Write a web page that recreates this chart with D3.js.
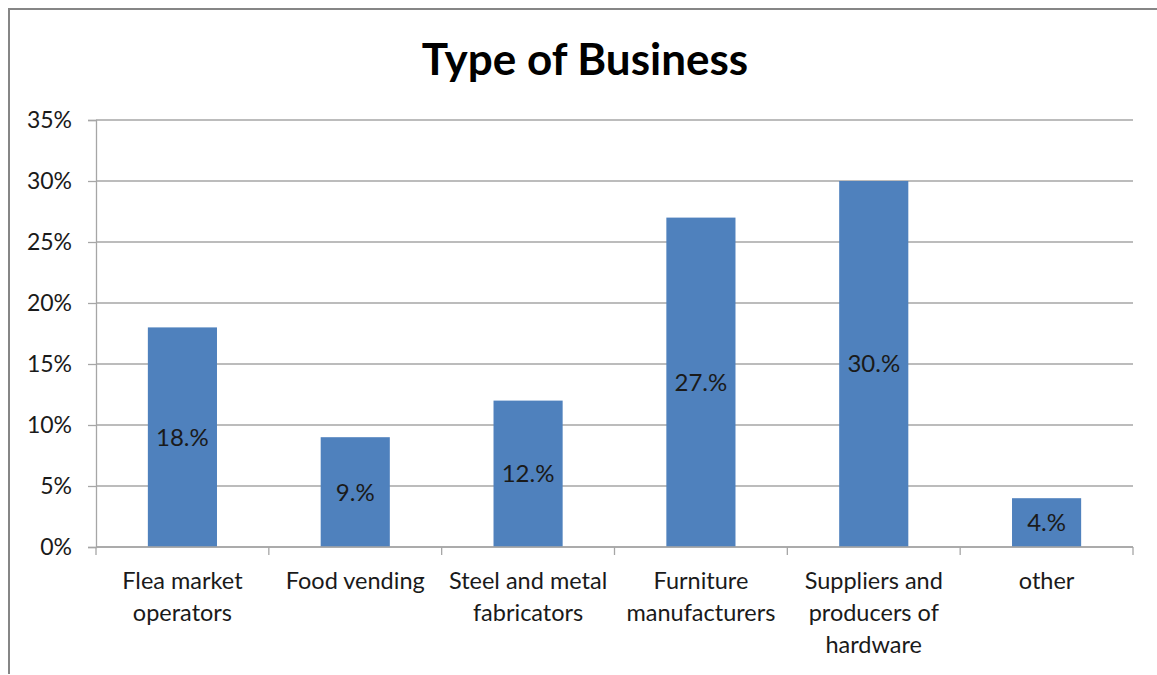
<!DOCTYPE html>
<html>
<head>
<meta charset="utf-8">
<script src="https://cdn.jsdelivr.net/npm/d3@7/dist/d3.min.js"></script>
<style>
  html, body { margin: 0; padding: 0; background: #fff; }
  svg { display: block; font-family: Lato, "Open Sans", sans-serif; }
</style>
</head>
<body>
<svg id="chart" width="1157" height="675"></svg>
<script>
// Share of respondents by type of business
const categories = [
  ["Flea market", "operators"],
  ["Food vending"],
  ["Steel and metal", "fabricators"],
  ["Furniture", "manufacturers"],
  ["Suppliers and", "producers of", "hardware"],
  ["other"]
];
const values = [18, 9, 12, 27, 30, 4];
const yTicks = [0, 5, 10, 15, 20, 25, 30, 35];
const title = "Type of Business";

const svg = d3.select("#chart");
const W = 1157, H = 675;
const margin = { left: 96, right: 24, top: 120, bottom: 128 };
const plotW = W - margin.left - margin.right;
const plotH = H - margin.top - margin.bottom;

// outer frame (top and left edges)
svg.append("path")
  .attr("d", `M9,${H - 1} L9,9 L${W},9`)
  .attr("fill", "none")
  .attr("stroke", "#868686")
  .attr("stroke-width", 2);

svg.append("text")
  .attr("x", 585)
  .attr("y", 75)
  .attr("text-anchor", "middle")
  .attr("font-size", 44)
  .attr("font-weight", "bold")
  .attr("fill", "#000")
  .text(title);

const idx = d3.range(categories.length);
const x = d3.scaleBand().domain(idx).range([0, plotW]).paddingInner(0.6).paddingOuter(0.3);
const xBand = d3.scaleBand().domain(idx).range([0, plotW]);
const y = d3.scaleLinear().domain([0, 35]).range([plotH, 0]);

const g = svg.append("g").attr("transform", `translate(${margin.left},${margin.top})`);

// horizontal gridlines
g.selectAll("line.grid")
  .data(yTicks)
  .join("line")
  .attr("class", "grid")
  .attr("x1", 0).attr("x2", plotW)
  .attr("y1", d => y(d)).attr("y2", d => y(d))
  .attr("stroke", "#a6a6a6")
  .attr("stroke-width", 1.3);

// y axis
const yAxis = g.append("g")
  .call(d3.axisLeft(y).tickValues(yTicks).tickFormat(d => d + "%").tickSize(8).tickPadding(16));
yAxis.select(".domain").attr("stroke", "#a6a6a6").attr("stroke-width", 1.3);
yAxis.selectAll(".tick line").attr("stroke", "#a6a6a6").attr("stroke-width", 1.3);
yAxis.selectAll(".tick text")
  .attr("font-size", 23)
  .attr("font-family", "Lato, 'Open Sans', sans-serif")
  .attr("fill", "#1a1a1a");

// bars
g.selectAll("rect.bar")
  .data(values)
  .join("rect")
  .attr("class", "bar")
  .attr("x", (d, i) => x(i))
  .attr("width", x.bandwidth())
  .attr("y", d => y(d))
  .attr("height", d => plotH - y(d))
  .attr("fill", "#4f81bd");

// value labels centred in each bar
g.selectAll("text.val")
  .data(values)
  .join("text")
  .attr("class", "val")
  .attr("x", (d, i) => x(i) + x.bandwidth() / 2)
  .attr("y", d => (y(d) + plotH) / 2)
  .attr("dy", "0.35em")
  .attr("text-anchor", "middle")
  .attr("font-size", 24)
  .attr("fill", "#1a1a1a")
  .text(d => d + ".%");

// x axis with boundary ticks between categories
const xAxisG = g.append("g").attr("transform", `translate(0,${plotH})`);
xAxisG.append("line")
  .attr("x1", 0).attr("x2", plotW)
  .attr("stroke", "#a6a6a6").attr("stroke-width", 1.3);
xAxisG.selectAll("line.tick")
  .data(d3.range(categories.length + 1))
  .join("line")
  .attr("class", "tick")
  .attr("x1", i => i * xBand.step()).attr("x2", i => i * xBand.step())
  .attr("y1", 0).attr("y2", 8)
  .attr("stroke", "#a6a6a6").attr("stroke-width", 1.3);

const catLabels = xAxisG.selectAll("text.cat")
  .data(categories)
  .join("text")
  .attr("class", "cat")
  .attr("text-anchor", "middle")
  .attr("font-size", 23.5)
  .attr("fill", "#1a1a1a")
  .attr("transform", (d, i) => `translate(${xBand(i) + xBand.bandwidth() / 2},42)`);
catLabels.selectAll("tspan")
  .data(d => d)
  .join("tspan")
  .attr("x", 0)
  .attr("y", (d, j) => j * 32)
  .text(d => d);
</script>
</body>
</html>
